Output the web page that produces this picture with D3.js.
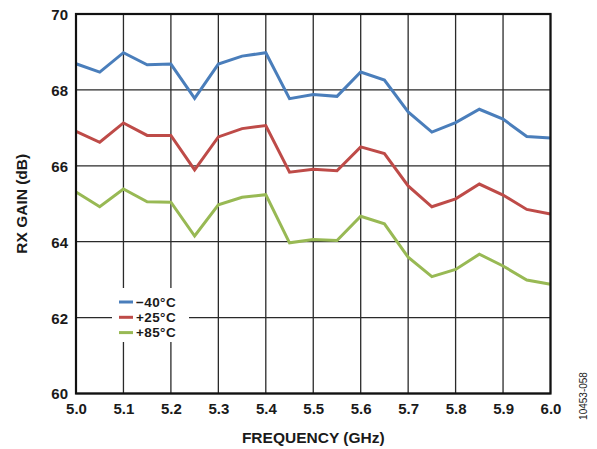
<!DOCTYPE html>
<html>
<head>
<meta charset="utf-8">
<script src="https://cdn.jsdelivr.net/npm/d3@7"></script>
<style>
body { margin: 0; background: #fff; }
text { font-family: "Liberation Sans", Arial, sans-serif; }
</style>
</head>
<body>
<div id="chart"></div>
<script>
// frequency points (GHz)
var freqs = [5.0, 5.05, 5.1, 5.15, 5.2, 5.25, 5.3, 5.35, 5.4, 5.45, 5.5,
	5.55, 5.6, 5.65, 5.7, 5.75, 5.8, 5.85, 5.9, 5.95, 6.0];
var gainM40 = [68.69, 68.47, 68.98, 68.66, 68.68, 67.78, 68.68, 68.89, 68.98, 67.77, 67.88,
	67.83, 68.47, 68.26, 67.42, 66.89, 67.14, 67.49, 67.23, 66.77, 66.73];
var gainP25 = [66.91, 66.62, 67.13, 66.80, 66.80, 65.89, 66.76, 66.98, 67.06, 65.83, 65.91,
	65.87, 66.50, 66.32, 65.47, 64.92, 65.13, 65.52, 65.23, 64.85, 64.73];
var gainP85 = [65.31, 64.92, 65.39, 65.05, 65.04, 64.15, 64.97, 65.17, 65.24, 63.97, 64.06,
	64.03, 64.67, 64.47, 63.59, 63.08, 63.27, 63.67, 63.36, 62.99, 62.88];
var seriesNames = ['\u221240\u00b0C', '+25\u00b0C', '+85\u00b0C'];
var seriesColors = ['#4a7ebb', '#be4b48', '#98b954'];
var xTicks = [5.0, 5.1, 5.2, 5.3, 5.4, 5.5, 5.6, 5.7, 5.8, 5.9, 6.0];
var yTicks = [60, 62, 64, 66, 68, 70];

var margin = { top: 14, right: 46.5, bottom: 55.5, left: 76 },
	width = 597 - margin.left - margin.right,
	height = 449 - margin.top - margin.bottom;

var svg = d3.select('#chart').append('svg')
	.attr('width', 597)
	.attr('height', 449);
var g = svg.append('g')
	.attr('transform', 'translate(' + margin.left + ',' + margin.top + ')');

var x = d3.scaleLinear().domain([5.0, 6.0]).range([0, width]);
var y = d3.scaleLinear().domain([60, 70]).range([height, 0]);

// grid
g.append('g').selectAll('line.vg')
	.data(xTicks).enter().append('line')
	.attr('x1', d => x(d)).attr('x2', d => x(d))
	.attr('y1', 0).attr('y2', height)
	.attr('stroke', '#2a2a2a').attr('stroke-width', 1.3);
g.append('g').selectAll('line.hg')
	.data(yTicks).enter().append('line')
	.attr('x1', 0).attr('x2', width)
	.attr('y1', d => y(d)).attr('y2', d => y(d))
	.attr('stroke', '#2a2a2a').attr('stroke-width', 1.3);

// axes labels
var xAxis = d3.axisBottom(x).tickValues(xTicks).tickFormat(d3.format('.1f')).tickSize(0).tickPadding(10);
var yAxis = d3.axisLeft(y).tickValues(yTicks).tickFormat(d3.format('d')).tickSize(0).tickPadding(8);
var gx = g.append('g').attr('transform', 'translate(0,' + height + ')').call(xAxis);
var gy = g.append('g').call(yAxis);
[gx, gy].forEach(function (a) {
	a.select('.domain').remove();
	a.selectAll('text')
		.style('font-family', '"Liberation Sans", Arial, sans-serif')
		.style('font-size', '15px')
		.style('font-weight', 'bold')
		.attr('fill', '#1a1a1a');
});
gy.selectAll('text').attr('dy', '0.36em');

// lines
var series = [gainM40, gainP25, gainP85];
var line = d3.line()
	.x(function (d, i) { return x(freqs[i]); })
	.y(function (d) { return y(d); });
g.append('g').selectAll('path')
	.data(series).enter().append('path')
	.attr('d', line)
	.attr('fill', 'none')
	.attr('stroke', (d, i) => seriesColors[i])
	.attr('stroke-width', 3)
	.attr('stroke-linejoin', 'miter');

// frame
g.append('rect')
	.attr('width', width).attr('height', height)
	.attr('fill', 'none').attr('stroke', '#111').attr('stroke-width', 2.2);

// legend
var legend = g.append('g').attr('transform', 'translate(' + (112 - margin.left) + ',' + (288 - margin.top) + ')');
legend.append('rect')
	.attr('x', 0).attr('y', 0).attr('width', 77).attr('height', 54)
	.attr('fill', '#fff');
var items = legend.selectAll('g.item')
	.data(seriesNames).enter().append('g')
	.attr('transform', (d, i) => 'translate(0,' + (14 + i * 15.3) + ')');
items.append('line')
	.attr('x1', 7).attr('x2', 21).attr('y1', 0).attr('y2', 0)
	.attr('stroke', (d, i) => seriesColors[i]).attr('stroke-width', 3);
items.append('text')
	.attr('x', 24).attr('y', 0).attr('dy', '0.36em')
	.style('font-size', '13.5px').style('font-weight', 'bold')
	.style('letter-spacing', '0.4px')
	.attr('fill', '#1a1a1a')
	.text(d => d);

// axis titles
svg.append('text')
	.attr('x', margin.left + width / 2).attr('y', 443)
	.attr('text-anchor', 'middle')
	.style('font-size', '15.5px').style('font-weight', 'bold')
	.attr('fill', '#1a1a1a')
	.text('FREQUENCY (GHz)');
svg.append('text')
	.attr('transform', 'translate(27,' + (margin.top + height / 2) + ') rotate(-90)')
	.attr('text-anchor', 'middle')
	.style('font-size', '15.5px').style('font-weight', 'bold')
	.attr('fill', '#1a1a1a')
	.text('RX GAIN (dB)');
svg.append('text')
	.attr('transform', 'translate(587,396) rotate(-90)')
	.attr('text-anchor', 'middle')
	.style('font-size', '10px')
	.attr('fill', '#1a1a1a')
	.text('10453-058');
</script>
</body>
</html>
